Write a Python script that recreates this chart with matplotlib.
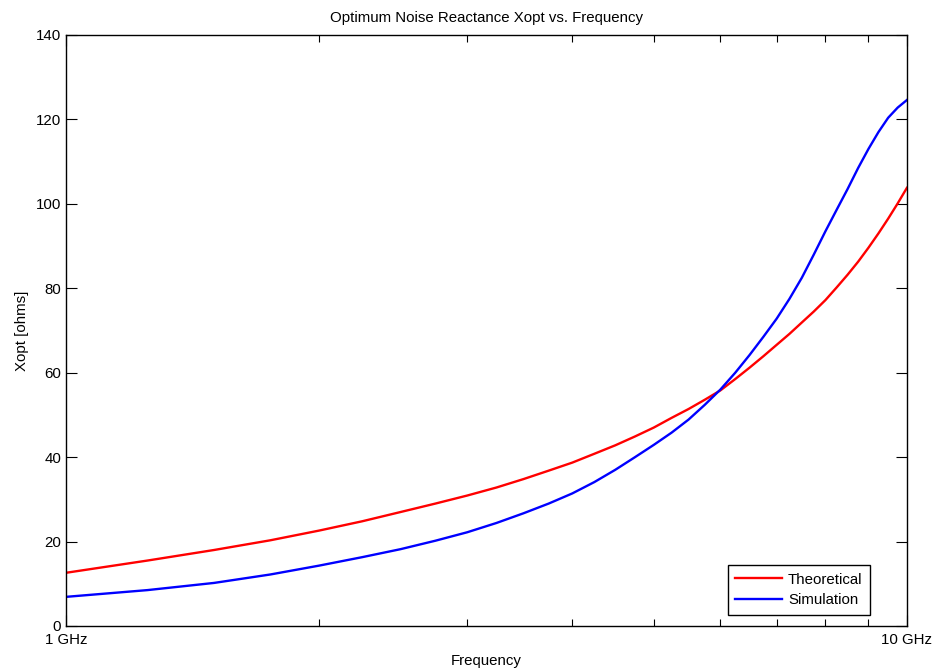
import matplotlib.pyplot as plt
from matplotlib.ticker import FixedLocator, NullFormatter

plt.rcParams['font.family'] = ['Liberation Sans', 'DejaVu Sans']

# frequency points in GHz
freq = [1.0, 1.25, 1.5, 1.75, 2.0, 2.25, 2.5, 2.75, 3.0, 3.25,
        3.5, 3.75, 4.0, 4.25, 4.5, 4.75, 5.0, 5.25, 5.5, 5.75,
        6.0, 6.25, 6.5, 6.75, 7.0, 7.25, 7.5, 7.75, 8.0, 8.25,
        8.5, 8.75, 9.0, 9.25, 9.5, 9.75, 10.0]

# optimum noise reactance, ohms
xopt_theory = [12.6, 15.5, 18.0, 20.3, 22.6, 24.8, 27.0, 29.0, 30.9, 32.8,
               34.8, 36.8, 38.7, 40.8, 42.8, 44.9, 47.0, 49.3, 51.4, 53.6,
               55.8, 58.5, 61.2, 63.9, 66.6, 69.2, 71.9, 74.5, 77.2, 80.2,
               83.2, 86.3, 89.6, 93.0, 96.5, 100.1, 103.8]
xopt_sim = [6.9, 8.5, 10.2, 12.2, 14.3, 16.3, 18.2, 20.2, 22.2, 24.4,
            26.7, 29.0, 31.4, 34.1, 37.0, 40.0, 42.9, 45.8, 48.9, 52.4,
            56.0, 60.0, 64.2, 68.5, 72.8, 77.5, 82.5, 88.0, 93.5, 98.6,
            103.5, 108.5, 113.0, 117.0, 120.4, 122.8, 124.6]

fs = 10.8

fig = plt.figure(figsize=(9.37, 6.69), dpi=100)
ax = fig.add_axes([0.0704, 0.0643, 0.8975, 0.8834])

ax.plot(freq, xopt_theory, color='red', lw=1.7, label='Theoretical')
ax.plot(freq, xopt_sim, color='blue', lw=1.7, label='Simulation')

ax.set_xscale('log')
ax.set_xlim(1, 10)
ax.set_ylim(0, 140)
ax.xaxis.set_major_locator(FixedLocator([1, 10]))
ax.set_xticklabels(['1 GHz', '10 GHz'])
ax.xaxis.set_minor_locator(FixedLocator([2, 3, 4, 5, 6, 7, 8, 9]))
ax.xaxis.set_minor_formatter(NullFormatter())
ax.set_yticks(range(0, 141, 20))

ax.tick_params(which='both', direction='in', top=True, right=True,
               labelsize=fs, width=0.8)
ax.tick_params(which='major', length=8)
ax.tick_params(which='minor', length=5)
ax.tick_params(axis='x', pad=5)
for s in ax.spines.values():
    s.set_linewidth(1.0)

ax.set_title('Optimum Noise Reactance Xopt vs. Frequency', fontsize=fs, pad=9)
ax.set_xlabel('Frequency', fontsize=fs, labelpad=5)
ax.set_ylabel('Xopt [ohms]', fontsize=fs, labelpad=5)

leg = ax.legend(loc='lower right', bbox_to_anchor=(0.956, 0.0186),
                fontsize=fs, fancybox=False, edgecolor='black',
                framealpha=1, borderaxespad=0, borderpad=0.5,
                handlelength=3.1, handletextpad=0.4, labelspacing=0.45)
leg.get_frame().set_linewidth(1.0)

fig.savefig('out.png', dpi=100)
